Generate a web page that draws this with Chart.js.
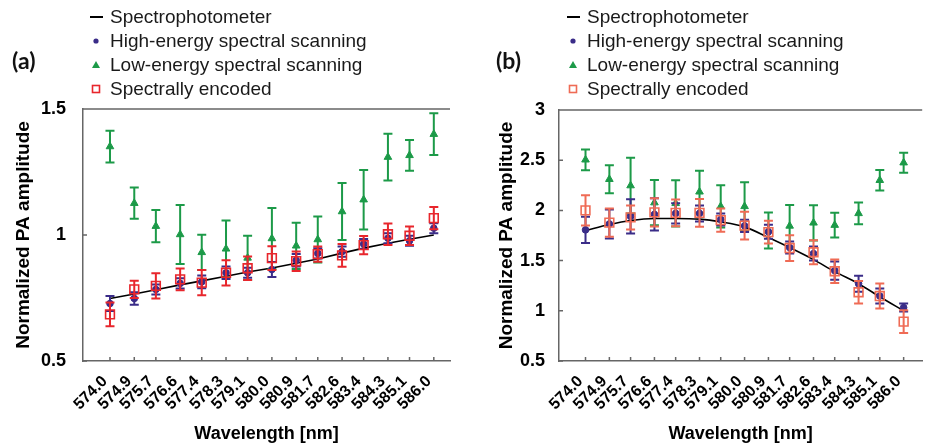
<!DOCTYPE html>
<html>
<head>
<meta charset="utf-8">
<script src="https://cdn.jsdelivr.net/npm/chart.js@4.4.1/dist/chart.umd.min.js"></script>
<style>
  body { margin: 0; background: #fff; width: 930px; height: 448px; position: relative; overflow: hidden; font-family: "Liberation Sans", Arial, sans-serif; }
  .panel { position: absolute; top: 0; width: 465px; height: 448px; }
  #panelA { left: 0; }
  #panelB { left: 465px; }
  .tag { position: absolute; top: 46px; font: bold 23px Lato, "Liberation Sans", sans-serif; color: #111; }
  .legend { position: absolute; top: 5px; font-size: 19px; line-height: 24px; color: #1a1a1a; white-space: nowrap; }
  .legend div { position: relative; padding-left: 20px; }
  .legend svg { position: absolute; left: 0; top: 5px; }
</style>
</head>
<body>
<div class="panel" id="panelA"><canvas id="chartA" width="465" height="448"></canvas></div>
<div class="panel" id="panelB"><canvas id="chartB" width="465" height="448"></canvas></div>

<div class="tag" style="left:12px">(a)</div>
<div class="tag" style="left:496px">(b)</div>

<div class="legend" style="left:90px">
  <div><svg width="14" height="14"><line x1="0" y1="7" x2="13" y2="7" stroke="#000" stroke-width="2"/></svg>Spectrophotometer</div>
  <div><svg width="14" height="14"><circle cx="6" cy="7" r="2.6" fill="#3a2c88"/></svg>High-energy spectral scanning</div>
  <div><svg width="14" height="14"><polygon points="6,3 10,10 2,10" fill="#1c9a48"/></svg>Low-energy spectral scanning</div>
  <div><svg width="14" height="14"><rect x="2.5" y="3.5" width="7" height="7" fill="none" stroke="#e8262c" stroke-width="1.6"/></svg>Spectrally encoded</div>
</div>
<div class="legend" style="left:567px">
  <div><svg width="14" height="14"><line x1="0" y1="7" x2="13" y2="7" stroke="#000" stroke-width="2"/></svg>Spectrophotometer</div>
  <div><svg width="14" height="14"><circle cx="6" cy="7" r="2.6" fill="#3a2c88"/></svg>High-energy spectral scanning</div>
  <div><svg width="14" height="14"><polygon points="6,3 10,10 2,10" fill="#1c9a48"/></svg>Low-energy spectral scanning</div>
  <div><svg width="14" height="14"><rect x="2.5" y="3.5" width="7" height="7" fill="none" stroke="#ef6b55" stroke-width="1.6"/></svg>Spectrally encoded</div>
</div>

<script>
// wavelengths (nm), same for both panels
const wavelengths = [574.0, 574.9, 575.7, 576.6, 577.4, 578.3, 579.1, 580.0, 580.9, 581.7, 582.6, 583.4, 584.3, 585.1, 586.0];

// panel (a)
const spectroA = [0.748, 0.766, 0.783, 0.802, 0.818, 0.836, 0.853, 0.869, 0.888, 0.905, 0.928, 0.948, 0.967, 0.983, 1.0];
const highA = [0.728, 0.748, 0.784, 0.808, 0.814, 0.85, 0.85, 0.863, 0.90, 0.927, 0.934, 0.964, 0.987, 0.977, 1.027];
const highAErr = [0.03, 0.025, 0.02, 0.02, 0.025, 0.025, 0.02, 0.03, 0.025, 0.02, 0.02, 0.02, 0.02, 0.02, 0.02];
const lowA = [1.351, 1.126, 1.035, 1.002, 0.931, 0.945, 0.909, 0.986, 0.957, 0.982, 1.093, 1.14, 1.309, 1.316, 1.40];
const lowAErr = [0.063, 0.062, 0.064, 0.117, 0.07, 0.113, 0.088, 0.121, 0.092, 0.091, 0.113, 0.118, 0.093, 0.061, 0.083];
const encA = [0.685, 0.784, 0.798, 0.824, 0.811, 0.85, 0.868, 0.908, 0.896, 0.924, 0.919, 0.96, 1.003, 0.997, 1.067];
const encAErr = [0.047, 0.034, 0.05, 0.043, 0.05, 0.05, 0.047, 0.047, 0.039, 0.03, 0.045, 0.036, 0.043, 0.037, 0.044];
const yTicksA = [0.5, 1, 1.5];

// panel (b)
const spectroB = [1.80, 1.86, 1.90, 1.92, 1.92, 1.913, 1.886, 1.836, 1.73, 1.63, 1.51, 1.39, 1.27, 1.14, 1.00];
const highB = [1.806, 1.865, 1.94, 1.96, 1.97, 1.97, 1.91, 1.846, 1.787, 1.63, 1.57, 1.40, 1.27, 1.148, 1.032];
const highBErr = [0.13, 0.145, 0.17, 0.16, 0.1, 0.08, 0.06, 0.06, 0.07, 0.06, 0.07, 0.09, 0.08, 0.075, 0.04];
const lowB = [2.504, 2.31, 2.247, 2.077, 2.07, 2.185, 2.04, 2.04, 1.80, 1.845, 1.876, 1.853, 1.97, 2.30, 2.475];
const lowBErr = [0.103, 0.14, 0.277, 0.225, 0.23, 0.21, 0.21, 0.24, 0.18, 0.21, 0.175, 0.123, 0.108, 0.103, 0.1];
const encB = [2.00, 1.878, 1.93, 1.98, 1.975, 1.975, 1.903, 1.848, 1.783, 1.625, 1.583, 1.394, 1.185, 1.147, 0.892];
const encBErr = [0.15, 0.14, 0.12, 0.14, 0.133, 0.138, 0.116, 0.138, 0.113, 0.128, 0.12, 0.116, 0.113, 0.125, 0.113];
const yTicksB = [0.5, 1, 1.5, 2, 2.5, 3];

const PURPLE = "#3a2c88";
const GREEN = "#1c9a48";
const FONT = "'Liberation Sans', Arial, sans-serif";

const pts = ys => ys.map((y, i) => ({ x: wavelengths[i], y }));

// vertical error bars with caps, drawn just before each dataset's own points
const errorBars = {
  id: "errorBars",
  beforeDatasetDraw(chart, args) {
    const ds = chart.data.datasets[args.index];
    if (!ds.errors) return;
    const { ctx, scales: { x, y } } = chart;
    ctx.save();
    ctx.strokeStyle = ds.borderColor;
    ctx.lineWidth = 2;
    ds.data.forEach((p, i) => {
      const px = x.getPixelForValue(p.x);
      const top = y.getPixelForValue(p.y + ds.errors[i]);
      const bot = y.getPixelForValue(p.y - ds.errors[i]);
      ctx.beginPath();
      ctx.moveTo(px, top); ctx.lineTo(px, bot);
      ctx.moveTo(px - 4.5, top); ctx.lineTo(px + 4.5, top);
      ctx.moveTo(px - 4.5, bot); ctx.lineTo(px + 4.5, bot);
      ctx.stroke();
    });
    ctx.restore();
  }
};

// inward tick marks + top frame line
const frame = {
  id: "frame",
  beforeDatasetsDraw(chart) {
    const { ctx, chartArea: a, scales: { x, y } } = chart;
    ctx.save();
    ctx.strokeStyle = "#666";
    ctx.lineWidth = 1.5;
    ctx.beginPath();
    ctx.moveTo(a.left, a.top); ctx.lineTo(a.right, a.top);
    x.ticks.forEach(t => {
      const px = x.getPixelForValue(t.value);
      ctx.moveTo(px, a.bottom); ctx.lineTo(px, a.bottom - 4);
    });
    y.ticks.forEach(t => {
      const py = y.getPixelForValue(t.value);
      ctx.moveTo(a.left, py); ctx.lineTo(a.left + 4, py);
    });
    ctx.stroke();
    ctx.restore();
  }
};

function makeChart(id, o) {
  return new Chart(document.getElementById(id), {
    type: "line",
    data: {
      datasets: [
        { label: "Spectrophotometer", data: pts(o.spectro), borderColor: "#000", borderWidth: 1.6,
          pointRadius: 0, tension: o.tension, cubicInterpolationMode: o.tension ? "monotone" : "default", order: 3 },
        { label: "Low-energy spectral scanning", data: pts(o.low), errors: o.lowErr, showLine: false,
          pointStyle: "triangle", pointRadius: 4.4, backgroundColor: GREEN, borderColor: GREEN, borderWidth: 1, order: 2 },
        { label: "High-energy spectral scanning", data: pts(o.high), errors: o.highErr, showLine: false,
          pointStyle: "circle", pointRadius: 3.3, backgroundColor: PURPLE, borderColor: PURPLE, borderWidth: 1, order: 1 },
        { label: "Spectrally encoded", data: pts(o.enc), errors: o.encErr, showLine: false,
          pointStyle: "rect", pointRadius: 6.2, backgroundColor: "rgba(255,255,255,0)", borderColor: o.encColor, borderWidth: 1.6, order: 0 }
      ]
    },
    options: {
      responsive: false,
      animation: false,
      events: [],
      layout: { padding: { top: o.top, right: o.right, bottom: 0, left: 0 } },
      plugins: { legend: { display: false }, tooltip: { enabled: false } },
      scales: {
        x: {
          type: "linear",
          min: 573.0,
          max: o.xMax,
          afterBuildTicks: s => { s.ticks = wavelengths.map(v => ({ value: v })); },
          afterFit: s => { s.height = 87; s.paddingLeft = 0; s.paddingRight = 0; },
          grid: { display: false },
          border: { color: "#666", width: 1.5 },
          ticks: {
            autoSkip: false, minRotation: 45, maxRotation: 45, padding: 3, labelOffset: -5,
            color: "#000", font: { family: FONT, size: 16, weight: "bold" },
            callback: v => v.toFixed(1)
          },
          title: { display: true, text: "Wavelength [nm]", color: "#000",
            font: { family: FONT, size: 18, weight: "bold" }, padding: { top: 0, bottom: 3 } }
        },
        y: {
          min: o.yTicks[0],
          max: o.yTicks[o.yTicks.length - 1],
          afterBuildTicks: s => { s.ticks = o.yTicks.map(v => ({ value: v })); },
          afterFit: s => { s.width = o.yWidth; },
          grid: { display: false },
          border: { color: "#666", width: 1.5 },
          ticks: { padding: o.tickPad, color: "#000", font: { family: FONT, size: 18, weight: "bold" },
            callback: v => String(v) },
          title: { display: true, text: "Normalized PA amplitude", color: "#000",
            font: { family: FONT, size: 19, weight: "bold" }, padding: { top: o.titlePad, bottom: 0 } }
        }
      }
    },
    plugins: [frame, errorBars]
  });
}

makeChart("chartA", {
  spectro: spectroA, high: highA, highErr: highAErr, low: lowA, lowErr: lowAErr,
  enc: encA, encErr: encAErr, encColor: "#e8262c", yTicks: yTicksA,
  tension: 0, top: 109, right: 15, xMax: 586.6, yWidth: 83, titlePad: 12, tickPad: 9
});

makeChart("chartB", {
  spectro: spectroB, high: highB, highErr: highBErr, low: lowB, lowErr: lowBErr,
  enc: encB, encErr: encBErr, encColor: "#ef6b55", yTicks: yTicksB,
  tension: 0.4, top: 110, right: 0, xMax: 586.7, yWidth: 94, titlePad: 30, tickPad: 6
});
</script>
</body>
</html>
